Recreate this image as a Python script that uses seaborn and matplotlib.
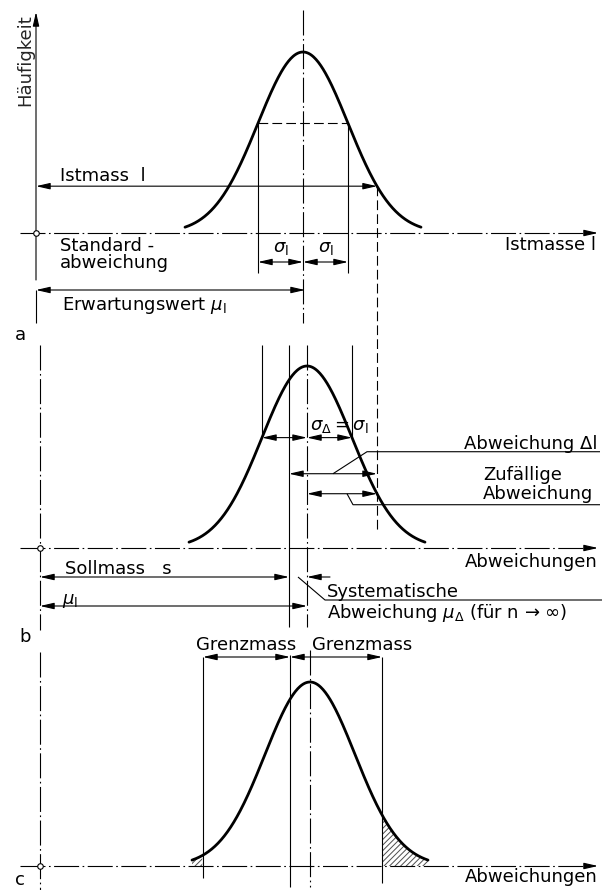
import numpy as np
import pandas as pd
import matplotlib.pyplot as plt
import seaborn as sns

sns.set_style('white')
plt.rcParams['font.family'] = ['DejaVu Sans']
plt.rcParams['mathtext.fontset'] = 'dejavusans'
plt.rcParams['lines.scale_dashes'] = False
plt.rcParams['hatch.linewidth'] = 0.7

# schematic values (drawing units = pixels of the sheet)
panels = ['a', 'b', 'c']
baseline_y = [233, 548, 866]
mean_x = [303, 307, 310]
peak_h = [181, 182, 184]
sigma = 45
tail = 118
istmass_x = 377
sollmass_x = 289
grenz_x = [203, 382]
axis_x = [36, 40, 40]

# build the three frequency curves
frames = []
for p, yb, m, h in zip(panels, baseline_y, mean_x, peak_h):
    xs = np.linspace(m - tail, m + tail, 300)
    frames.append(pd.DataFrame({'x': xs,
                                'y': yb - h * np.exp(-(xs - m) ** 2 / (2 * sigma ** 2)),
                                'panel': p}))
curves = pd.concat(frames, ignore_index=True)


def gauss(i, x):
    return baseline_y[i] - peak_h[i] * np.exp(-(x - mean_x[i]) ** 2 / (2 * sigma ** 2))


fig = plt.figure(figsize=(6.02, 8.90), dpi=100)
ax = fig.add_axes([0, 0, 1, 1])
sns.lineplot(data=curves, x='x', y='y', units='panel', estimator=None, sort=False,
             color='black', lw=2, ax=ax, legend=False)
ax.set_xlim(0, 602)
ax.set_ylim(890, 0)
ax.axis('off')

LW = 0.8
DD = (0, (18, 2.5, 1.2, 2.5))   # dash-dot centre lines
DASH = (0, (7, 3))


def line(xs, ys, ls='-', lw=LW):
    ax.plot(xs, ys, color='k', lw=lw, ls=ls, solid_capstyle='butt')


def arrow(x1, y1, x2, y2, style='<|-|>'):
    ax.annotate('', xy=(x2, y2), xytext=(x1, y1),
                arrowprops=dict(arrowstyle=style + ',head_length=0.7,head_width=0.16',
                                color='k', lw=LW, shrinkA=0, shrinkB=0, mutation_scale=12))


def txt(x, y, s, **kw):
    ax.text(x, y, s, fontsize=13, color='k', **kw)


def origin(i):
    yb = baseline_y[i]
    line([20, 590], [yb, yb], DD)
    arrow(585, yb, 598, yb, '-|>')
    ax.plot(axis_x[i], yb, 'o', mfc='white', mec='k', ms=4, mew=0.8, zorder=5)


# ---- panel a ----
yb, m = baseline_y[0], mean_x[0]
arrow(axis_x[0], 280, axis_x[0], 12, '-|>')
ax.text(25, 60, 'Häufigkeit', rotation=90, ha='center', va='center', fontsize=13)
origin(0)
line([m, m], [10, 323], DD)
ys = gauss(0, m - sigma)
line([m - sigma, m + sigma], [ys, ys], DASH)
for x in (m - sigma, m + sigma):
    line([x, x], [ys, 273])
arrow(m - sigma, 262, m, 262)
arrow(m, 262, m + sigma, 262)
txt(m - sigma / 2, 248, r'$\sigma_\mathrm{l}$', ha='center', va='center')
txt(m + sigma / 2, 248, r'$\sigma_\mathrm{l}$', ha='center', va='center')
yi = gauss(0, istmass_x)
arrow(axis_x[0], yi, istmass_x, yi)
txt(60, yi - 5, 'Istmass  l', va='baseline')
line([istmass_x, istmass_x], [yi, 530], DASH)
txt(60, 251, 'Standard -', va='baseline')
txt(60, 268, 'abweichung', va='baseline')
txt(596, 245, 'Istmasse l', ha='right', va='center')
arrow(axis_x[0], 290, m + 2, 290)
line([axis_x[0], axis_x[0]], [290, 323])
txt(62, 305, r'Erwartungswert $\mu_\mathrm{l}$', va='center')
txt(20, 335, 'a', ha='center', va='center')

# ---- panel b ----
yb, m = baseline_y[1], mean_x[1]
line([axis_x[1], axis_x[1]], [345, 630], DD)
origin(1)
line([m, m], [345, 627], DD)
line([sollmass_x, sollmass_x], [345, 627])
ys = gauss(1, m - sigma)
line([m - sigma, m - sigma], [345, ys])
line([m + sigma, m + sigma], [345, ys])
arrow(m - sigma, ys, m, ys)
arrow(m, ys, m + sigma, ys)
txt(m + 3, ys - 3, r'$\sigma_\Delta = \sigma_\mathrm{l}$', va='bottom')
yr = gauss(1, istmass_x)
yd = yr - 20
arrow(sollmass_x, yd, istmass_x, yd)
arrow(m, yr, istmass_x, yr)
line([333, 367, 600], [yd, yd - 22, yd - 22])
txt(598, yd - 25, 'Abweichung Δl', ha='right', va='baseline')
line([347, 353, 600], [yr, yr + 11, yr + 11])
txt(483, yr - 14, 'Zufällige', va='baseline')
txt(483, yr + 5, 'Abweichung', va='baseline')
txt(598, 562, 'Abweichungen', ha='right', va='center')
arrow(axis_x[1], 577, sollmass_x, 577)
txt(65, 574, 'Sollmass   s', va='baseline')
arrow(330, 577, m, 577, '-|>')
line([298, 325, 602], [577, 600, 600])
txt(327, 597, 'Systematische', va='baseline')
txt(327, 618, r'Abweichung $\mu_\Delta$ (für n → ∞)', va='baseline')
arrow(axis_x[1], 606, m, 606)
txt(62, 601, r'$\mu_\mathrm{l}$', va='center')
txt(25, 637, 'b', ha='center', va='center')

# ---- panel c ----
i = 2
yb, m = baseline_y[i], mean_x[i]
line([axis_x[i], axis_x[i]], [652, 890], DD)
origin(i)
line([m, m], [650, 887], DD)
line([sollmass_x + 1, sollmass_x + 1], [655, 887])
line([grenz_x[0], grenz_x[0]], [657, 878])
line([grenz_x[1], grenz_x[1]], [657, 883])
arrow(grenz_x[0], 657, sollmass_x + 1, 657)
arrow(sollmass_x + 1, 657, grenz_x[1], 657)
txt((grenz_x[0] + sollmass_x) / 2, 650, 'Grenzmass', ha='center', va='baseline')
txt(m + 52, 650, 'Grenzmass', ha='center', va='baseline')
cc = curves[curves['panel'] == 'c']
for mask in (cc['x'] <= grenz_x[0], cc['x'] >= grenz_x[1]):
    ax.fill_between(cc['x'], yb, cc['y'], where=mask, facecolor='none',
                    edgecolor='0.3', hatch='//////', lw=0)
txt(598, 877, 'Abweichungen', ha='right', va='center')
txt(20, 889, 'c', ha='center', va='bottom')

fig.savefig('out.png', dpi=100, facecolor='white')
